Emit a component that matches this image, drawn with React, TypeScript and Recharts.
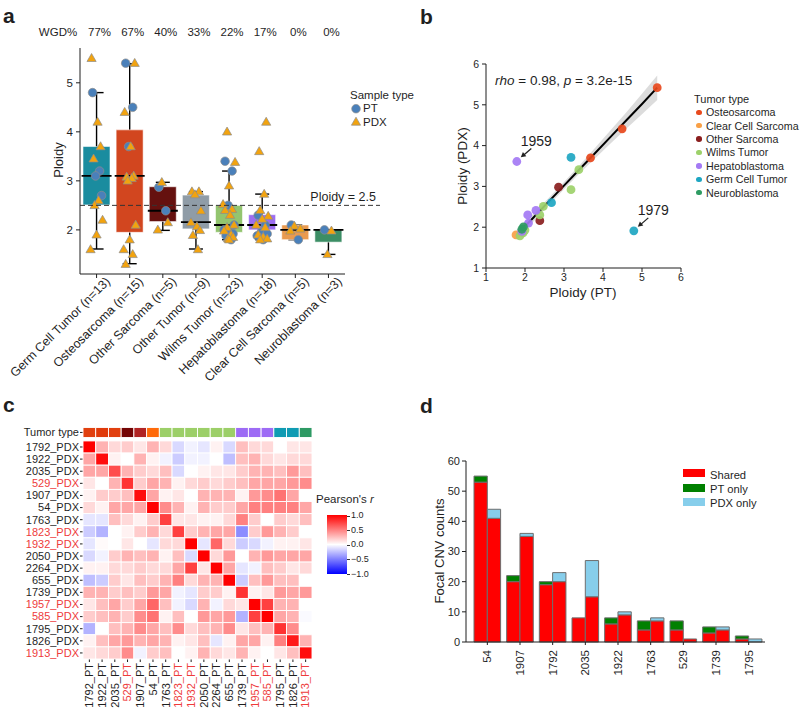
import React from 'react';
import {
  ComposedChart,
  BarChart,
  ScatterChart,
  Bar,
  Scatter,
  Area,
  Line,
  XAxis,
  YAxis,
  ErrorBar,
  Cell,
  ReferenceLine,
} from 'recharts';

const FONT = '"Liberation Sans", Arial, Helvetica, sans-serif';
const INK = '#1f1f1f';
const LABEL_RED = '#EE3B3B';

// ---------- panel a: ploidy per tumor type ----------
const categories = [
  'Germ Cell Tumor (n=13)',
  'Osteosarcoma (n=15)',
  'Other Sarcoma (n=5)',
  'Other Tumor (n=9)',
  'Wilms Tumor (n=23)',
  'Hepatoblastoma (n=18)',
  'Clear Cell Sarcoma (n=5)',
  'Neuroblastoma (n=3)',
];
const wgdPct = ['77%', '67%', '40%', '33%', '22%', '17%', '0%', '0%'];
const boxQ1 = [2.51, 1.95, 2.17, 2.02, 1.95, 2.0, 1.8, 1.75];
const boxMedian = [3.1, 3.1, 2.39, 2.16, 2.1, 2.1, 2.0, 2.0];
const boxQ3 = [3.7, 4.04, 2.88, 2.71, 2.5, 2.31, 2.1, 2.0];
const whiskerLow = [1.61, 1.31, 1.99, 1.61, 1.8, 1.8, 1.8, 1.5];
const whiskerHigh = [4.8, 5.39, 2.97, 2.78, 3.2, 2.73, 2.1, 2.0];
const boxColors = ['#1A8C9F', '#D2461F', '#65110F', '#8F9CA7', '#93C56F', '#9C6DF0', '#E99A4F', '#3C8E65'];
const ptPloidy = [
  [4.8, 3.2, 3.1, 2.7],
  [5.4, 4.5, 3.7],
  [2.87, 2.39],
  [],
  [3.4, 3.2, 2.5, 2.1, 2.0, 1.95, 1.92, 1.88, 1.8],
  [2.3, 2.1, 1.95, 1.92, 1.88, 1.8],
  [2.1, 1.8],
  [2.0],
];
const pdxPloidy = [
  [5.5, 4.2, 3.7, 3.45, 2.6, 2.5, 2.2, 1.9, 1.6],
  [5.4, 4.4, 3.7, 3.1, 3.08, 3.05, 3.0, 2.1, 1.8, 1.6, 1.5, 1.3],
  [2.97, 2.15, 2.0],
  [2.78, 2.78, 2.72, 2.39, 2.15, 2.07, 1.99, 1.89, 1.6],
  [4.0, 3.38, 2.9, 2.52, 2.42, 2.4, 2.3, 2.1, 2.05, 1.98, 1.9, 1.85, 1.82, 1.8],
  [4.2, 3.6, 2.73, 2.4, 2.28, 2.22, 2.1, 2.05, 1.9, 1.85, 1.82, 1.8],
  [2.08, 2.02, 1.98],
  [1.98, 1.5],
];

// ---------- panel b: PT vs PDX ploidy ----------
const tumorTypes = ['Osteosarcoma', 'Clear Cell Sarcoma', 'Other Sarcoma', 'Wilms Tumor', 'Hepatoblastoma', 'Germ Cell Tumor', 'Neuroblastoma'];
const tumorColors = ['#E8491D', '#F9A046', '#8A1E1E', '#9DD16A', '#A47AF4', '#1EA6C2', '#2E9B62'];
const pairType = [0, 0, 0, 1, 2, 2, 3, 3, 3, 3, 3, 3, 3, 4, 4, 4, 4, 4, 5, 5, 5, 6, 6];
const pairPT = [5.39, 4.49, 3.68, 1.77, 2.86, 2.38, 3.18, 3.38, 2.47, 2.38, 2.0, 1.95, 1.87, 1.79, 2.07, 2.28, 2.09, 1.92, 3.18, 2.68, 4.79, 1.96, 1.92];
const pairPDX = [5.42, 4.41, 3.7, 1.81, 2.98, 2.16, 2.92, 3.41, 2.51, 2.3, 1.93, 1.86, 1.79, 3.61, 2.3, 2.41, 2.1, 1.9, 3.71, 2.6, 1.91, 2.01, 1.95];
const pairLabel = ['', '', '', '', '', '', '', '', '', '', '', '', '', '1959', '', '', '', '', '', '', '1979', '', ''];
const fitX = [1.79, 2.2, 2.6, 3.0, 3.4, 3.8, 4.2, 4.6, 5.0, 5.39];
const fitY = [1.81, 2.22, 2.62, 3.02, 3.42, 3.82, 4.22, 4.62, 5.02, 5.42];
const fitLow = [1.68, 2.12, 2.53, 2.93, 3.32, 3.69, 4.06, 4.42, 4.77, 5.12];
const fitHigh = [1.94, 2.32, 2.71, 3.11, 3.52, 3.95, 4.38, 4.82, 5.27, 5.72];

// ---------- panel c: PT / PDX correlation heatmap ----------
const sampleIds = ['1792', '1922', '2035', '529', '1907', '54', '1763', '1823', '1932', '2050', '2264', '655', '1739', '1957', '585', '1795', '1826', '1913'];
const redIds = ['529', '1823', '1932', '1957', '585', '1913'];
const stripColors = [
  '#E1400F', '#E03A0A', '#E1400F', '#740505', '#B12424', '#FF6A0A',
  '#9CCF68', '#9CCF68', '#9CCF68', '#9CCF68', '#9CCF68', '#9CCF68',
  '#9D6BF5', '#9D6BF5', '#9D6BF5', '#0F9BB3', '#0F9BB3', '#2E9A64',
];
// rows: *_PDX, columns: *_PT (same order as sampleIds)
const corr = [
  [1.0, 0.3, 0.15, 0.2, 0.1, 0.3, 0.15, -0.15, -0.05, -0.1, 0.05, -0.15, 0.25, 0.15, 0.15, 0.0, 0.1, 0.1],
  [0.35, 0.95, 0.05, 0.0, 0.3, 0.05, -0.05, -0.2, -0.05, -0.05, 0.0, -0.25, 0.25, 0.3, 0.15, 0.1, 0.15, 0.15],
  [0.35, 0.35, 0.7, 0.3, 0.2, 0.15, 0.25, -0.15, 0.0, 0.05, 0.1, 0.1, 0.2, 0.3, 0.3, 0.25, 0.4, 0.25],
  [0.1, 0.0, 0.3, 0.8, 0.2, 0.35, 0.3, 0.05, 0.15, 0.2, 0.15, 0.2, 0.25, 0.35, 0.35, 0.35, 0.4, 0.45],
  [0.05, 0.2, 0.2, 0.25, 0.95, 0.35, 0.05, 0.1, 0.0, 0.3, 0.3, 0.3, 0.05, 0.4, 0.45, 0.55, 0.35, 0.0],
  [0.15, 0.05, 0.35, 0.35, 0.35, 1.0, 0.45, 0.3, 0.05, 0.3, 0.2, 0.2, 0.35, 0.5, 0.5, 0.5, 0.5, 0.35],
  [-0.1, -0.1, 0.25, 0.15, 0.05, 0.2, 0.75, 0.1, 0.1, 0.05, 0.05, 0.15, 0.5, 0.2, 0.0, 0.2, 0.15, 0.25],
  [-0.2, -0.3, 0.0, 0.05, 0.2, 0.3, 0.15, 0.75, 0.2, 0.3, 0.35, 0.35, -0.45, 0.2, 0.4, 0.3, 0.2, 0.0],
  [-0.1, 0.02, 0.0, 0.1, 0.0, -0.1, 0.15, 0.15, 1.0, -0.1, 0.6, 0.15, -0.2, -0.15, -0.05, 0.05, 0.05, 0.1],
  [-0.15, -0.05, 0.2, 0.3, 0.25, 0.3, 0.05, 0.25, -0.15, 1.0, 0.15, 0.4, 0.0, 0.3, 0.4, 0.35, 0.35, 0.35],
  [0.05, 0.05, 0.15, 0.15, 0.2, 0.15, 0.15, 0.35, 0.75, 0.1, 1.0, 0.35, -0.1, -0.05, 0.25, 0.2, 0.1, 0.15],
  [-0.25, -0.2, 0.2, 0.1, 0.25, 0.2, 0.3, 0.5, 0.15, 0.3, 0.3, 1.0, -0.2, 0.25, 0.4, 0.25, 0.25, 0.0],
  [0.3, 0.3, 0.2, 0.25, 0.2, 0.4, 0.35, -0.05, -0.1, 0.2, 0.2, 0.05, 0.8, 0.05, 0.1, 0.4, 0.35, 0.4],
  [0.1, 0.25, 0.35, 0.2, 0.35, 0.6, 0.25, -0.05, -0.15, 0.3, -0.05, 0.15, 0.1, 1.0, 0.75, 0.3, 0.3, 0.0],
  [0.2, 0.25, 0.3, 0.2, 0.45, 0.55, 0.05, 0.25, 0.0, 0.4, 0.35, 0.4, -0.3, 0.75, 1.0, 0.35, 0.3, -0.02],
  [-0.3, 0.0, 0.25, 0.3, 0.45, 0.35, 0.25, 0.45, 0.15, 0.25, 0.3, 0.45, 0.1, 0.25, 0.3, 0.8, 0.45, 0.0],
  [0.05, 0.25, 0.35, 0.4, 0.3, 0.35, 0.3, 0.05, 0.1, 0.25, -0.1, 0.05, 0.35, 0.35, 0.05, 0.5, 0.9, 0.3],
  [0.1, 0.15, 0.2, 0.45, -0.05, 0.2, 0.25, 0.0, 0.05, 0.3, 0.15, 0.1, 0.3, 0.05, 0.0, 0.1, 0.25, 0.95],
];

// ---------- panel d: focal CNV counts ----------
const cnvIds = ['54', '1907', '1792', '2035', '1922', '1763', '529', '1739', '1795'];
const ptShared = [53, 20, 19, 8, 6, 4, 4, 3, 1];
const ptOnly = [2, 2, 1, 0, 2, 3, 3, 2, 1];
const pdxShared = [41, 35, 20, 15, 9, 7, 1, 4, 0];
const pdxOnly = [3, 1, 3, 12, 1, 1, 0, 1, 1];

// ---------- derived tables ----------
const boxData = categories.map((name, i) => ({
  name,
  box: [boxQ1[i], boxQ3[i]],
  median: boxMedian[i],
  whisker: [boxMedian[i] - whiskerLow[i], whiskerHigh[i] - boxMedian[i]],
}));

const jitterPx = [-4, 3, -1, 5, -5, 1, 4, -3, 2, -2, 6, 0, -6, 3, -4, 1, 5, -2, -5, 2, 4, -1, 0];
const ptPoints: any[] = [];
const pdxPoints: any[] = [];
categories.forEach((name, i) => {
  let k = 0;
  ptPloidy[i].forEach((y) => ptPoints.push({ name, y, k: k++ }));
  pdxPloidy[i].forEach((y) => pdxPoints.push({ name, y, k: k++ }));
});

const fitData = fitX.map((x, i) => ({ x, fit: fitY[i], band: [fitLow[i], fitHigh[i]] }));
const pairData = pairPT.map((x, i) => ({ x, y: pairPDX[i], color: tumorColors[pairType[i]], label: pairLabel[i] }));

const heatCells = corr.flatMap((row, r) => row.map((v, c) => ({ x: c, y: r, v })));
const stripCells = stripColors.map((color, c) => ({ x: c, y: -1.2, color }));

const cnvData = cnvIds.map((id, i) => ({
  id,
  ptShared: ptShared[i],
  ptOnly: ptOnly[i],
  pdxShared: pdxShared[i],
  pdxOnly: pdxOnly[i],
}));

// ---------- shapes & ticks ----------
function CategoryTick(props: any) {
  const { x, y, payload, index } = props;
  const ax = x + 8;
  const ay = y - 4;
  return (
    <g>
      <text x={ax} y={ay} dy="0.71em" transform={`rotate(-45 ${ax} ${ay})`} textAnchor="end" fontSize={12.5} fill={INK}>
        {payload.value}
      </text>
      <text x={x + 3} y={36} textAnchor="middle" fontSize={11.5} fill={INK}>
        {wgdPct[index]}
      </text>
      {index === 0 && (
        <text x={58} y={36} textAnchor="middle" fontSize={11.5} fill={INK}>
          WGD%
        </text>
      )}
    </g>
  );
}

const MedianLine = (p: any) => <line x1={p.cx - 15} x2={p.cx + 15} y1={p.cy} y2={p.cy} stroke="#000" strokeWidth={1.8} />;

const PtDot = (p: any) => (
  <circle cx={p.cx + jitterPx[p.payload.k]} cy={p.cy} r={4.3} fill="#4A80BA" stroke="#8c8c8c" strokeWidth={0.7} />
);

const PdxTri = (p: any) => {
  const x = p.cx + jitterPx[p.payload.k];
  const y = p.cy;
  return (
    <polygon
      points={`${x},${y - 4.8} ${x + 4.6},${y + 3.2} ${x - 4.6},${y + 3.2}`}
      fill="#F2A30F"
      stroke="#8c8c8c"
      strokeWidth={0.7}
    />
  );
};

const PairDot = (p: any) => {
  const { cx, cy, payload } = p;
  return (
    <g>
      <circle cx={cx} cy={cy} r={4.4} fill={payload.color} fillOpacity={0.92} />
      {payload.label && (
        <g>
          <line x1={cx + 14.5} y1={cy - 13} x2={cx + 7} y2={cy - 6.5} stroke="#222" strokeWidth={1.3} />
          <polygon points={`${cx + 4},${cy - 4.2} ${cx + 9.5},${cy - 5.3} ${cx + 6.1},${cy - 9.4}`} fill="#222" />
          <text x={cx + 19.5} y={cy - 16} textAnchor="middle" fontSize={14} fill={INK}>
            {payload.label}
          </text>
        </g>
      )}
    </g>
  );
};

const HEAT_PLOT_W = 229;
const HEAT_PLOT_H = 232;
const CELL_W = HEAT_PLOT_W / 18;
const CELL_H = HEAT_PLOT_H / 19.15;

function corrColor(v: number) {
  const t = Math.min(1, Math.abs(v));
  const f = Math.round(255 * (1 - t));
  return v >= 0 ? `rgb(255,${f},${f})` : `rgb(${f},${f},255)`;
}

const HeatCell = (p: any) => (
  <rect
    x={p.cx - CELL_W / 2}
    y={p.cy - CELL_H / 2}
    width={CELL_W}
    height={CELL_H}
    fill={corrColor(p.payload.v)}
    stroke="#fff"
    strokeWidth={0.9}
  />
);

const StripCell = (p: any) => (
  <rect x={p.cx - CELL_W / 2} y={p.cy - 5} width={CELL_W} height={10} fill={p.payload.color} stroke="#fff" strokeWidth={0.9} />
);

function HeatRowTick(props: any) {
  const { x, y, payload } = props;
  const v = payload.value;
  const id = v < 0 ? '' : sampleIds[Math.round(v)];
  const label = v < 0 ? 'Tumor type' : `${id}_PDX`;
  return (
    <text x={x} y={y} dy="0.35em" textAnchor="end" fontSize={11} fill={redIds.includes(id) ? LABEL_RED : INK}>
      {label}
    </text>
  );
}

function HeatColTick(props: any) {
  const { x, y, payload } = props;
  const id = sampleIds[Math.round(payload.value)];
  return (
    <text
      x={x}
      y={y}
      dy="0.35em"
      transform={`rotate(-90 ${x} ${y})`}
      textAnchor="end"
      fontSize={11}
      fill={redIds.includes(id) ? LABEL_RED : INK}
    >
      {`${id}_PT`}
    </text>
  );
}

function CnvTick(props: any) {
  const { x, y, payload } = props;
  return (
    <text x={x} y={y} dy="0.35em" transform={`rotate(-90 ${x} ${y})`} textAnchor="end" fontSize={11.5} fill={INK}>
      {payload.value}
    </text>
  );
}

// ---------- html text helpers ----------
function Txt({ x, base, size = 11, children, bold, anchor = 'start', italic }: any) {
  const shift = anchor === 'middle' ? 'translateX(-50%)' : anchor === 'end' ? 'translateX(-100%)' : 'none';
  return (
    <div
      style={{
        position: 'absolute',
        left: x,
        top: base - 0.8465 * size,
        fontSize: size,
        lineHeight: `${size}px`,
        fontWeight: bold ? 700 : 400,
        fontStyle: italic ? 'italic' : 'normal',
        whiteSpace: 'nowrap',
        transform: shift,
        color: INK,
      }}
    >
      {children}
    </div>
  );
}

function VTxt({ cx, cy, size = 13, children }: any) {
  return (
    <div
      style={{
        position: 'absolute',
        left: cx,
        top: cy,
        fontSize: size,
        lineHeight: `${size}px`,
        whiteSpace: 'nowrap',
        transform: 'translate(-50%, -50%) rotate(-90deg)',
        color: INK,
      }}
    >
      {children}
    </div>
  );
}

const abs = (left: number, top: number): React.CSSProperties => ({ position: 'absolute', left, top });

export default function App() {
  return (
    <div style={{ position: 'absolute', left: 0, top: 0, width: 800, height: 709, background: '#fff', fontFamily: FONT, overflow: 'hidden' }}>
      {/* ----- a: whiskers sit behind the boxes (invisible bar keeps the band scale) ----- */}
      <div style={abs(0, 0)}>
        <ComposedChart width={400} height={400} data={boxData} margin={{ top: 48, right: 55, bottom: 126, left: 80 }}>
          <XAxis dataKey="name" allowDuplicatedCategory={false} hide />
          <YAxis type="number" domain={[1.1, 5.71]} allowDataOverflow hide />
          <Bar dataKey="box" barSize={27} fill="none" fillOpacity={0} isAnimationActive={false} />
          <Scatter data={boxData} dataKey="median" shape={() => <g />} isAnimationActive={false}>
            <ErrorBar dataKey="whisker" direction="y" width={7} stroke="#000" strokeWidth={1.4} isAnimationActive={false} />
          </Scatter>
        </ComposedChart>
      </div>
      <div style={abs(0, 0)}>
        <ComposedChart width={400} height={400} data={boxData} margin={{ top: 48, right: 55, bottom: 26, left: 50 }}>
          <XAxis
            dataKey="name"
            allowDuplicatedCategory={false}
            interval={0}
            height={100}
            tickSize={4}
            stroke={INK}
            tick={(p: any) => <CategoryTick {...p} />}
          />
          <YAxis
            type="number"
            domain={[1.1, 5.71]}
            ticks={[2, 3, 4, 5]}
            allowDataOverflow
            width={30}
            tickSize={4}
            tickMargin={3}
            stroke={INK}
            tick={{ fontSize: 11.5, fill: INK }}
          />
          <Bar dataKey="box" barSize={27} isAnimationActive={false}>
            {boxColors.map((c) => (
              <Cell key={c} fill={c} stroke="#ffffff" strokeOpacity={0.55} strokeWidth={1} />
            ))}
          </Bar>
          <Scatter data={boxData} dataKey="median" shape={MedianLine} isAnimationActive={false} />
          <Scatter data={ptPoints} dataKey="y" shape={PtDot} isAnimationActive={false} />
          <Scatter data={pdxPoints} dataKey="y" shape={PdxTri} isAnimationActive={false} />
        </ComposedChart>
      </div>
      <div style={{ ...abs(0, 0), pointerEvents: 'none' }}>
        <ComposedChart width={400} height={400} data={boxData} margin={{ top: 48, right: 20, bottom: 126, left: 80 }}>
          <XAxis dataKey="name" hide />
          <YAxis type="number" domain={[1.1, 5.71]} allowDataOverflow hide />
          <ReferenceLine
            y={2.5}
            stroke="#333"
            strokeDasharray="5 3"
            strokeWidth={1}
            label={{ value: 'Ploidy = 2.5', position: 'insideBottomRight', fill: INK, fontSize: 12.5, offset: 4 }}
          />
        </ComposedChart>
      </div>
      <Txt x={3} base={23} size={21} bold>a</Txt>
      <VTxt cx={58} cy={160} size={13}>Ploidy</VTxt>
      <Txt x={350} base={100} size={11.5}>Sample type</Txt>
      <svg style={abs(350, 103)} width={14} height={26}>
        <circle cx={6} cy={5.7} r={4.3} fill="#4A80BA" stroke="#8c8c8c" strokeWidth={0.7} />
        <polygon points="6,14.2 10.6,22.2 1.4,22.2" fill="#F2A30F" stroke="#8c8c8c" strokeWidth={0.7} />
      </svg>
      <Txt x={363} base={113} size={11.5}>PT</Txt>
      <Txt x={363} base={126.5} size={11.5}>PDX</Txt>

      {/* ----- b ----- */}
      <div style={abs(400, 0)}>
        <ComposedChart width={400} height={330} data={fitData} margin={{ top: 64, right: 119, bottom: 22, left: 56 }}>
          <XAxis
            type="number"
            dataKey="x"
            domain={[1, 6]}
            ticks={[1, 2, 3, 4, 5, 6]}
            interval={0}
            height={40}
            tickSize={4}
            stroke={INK}
            tick={{ fontSize: 10.5, fill: INK }}
          />
          <YAxis
            type="number"
            domain={[1, 6]}
            ticks={[1, 2, 3, 4, 5, 6]}
            interval={0}
            width={30}
            tickSize={4}
            tickMargin={3}
            stroke={INK}
            tick={{ fontSize: 10.5, fill: INK }}
          />
          <Area dataKey="band" stroke="none" fill="#c4c4c4" fillOpacity={0.6} isAnimationActive={false} />
          <Line dataKey="fit" stroke="#000" strokeWidth={2} dot={false} isAnimationActive={false} />
          <Scatter data={pairData} dataKey="y" shape={PairDot} isAnimationActive={false} />
        </ComposedChart>
      </div>
      <Txt x={420} base={24} size={21} bold>b</Txt>
      <Txt x={495} base={85} size={13.5}>
        <i>rho</i> = 0.98, <i>p</i> = 3.2e-15
      </Txt>
      <Txt x={583} base={297} size={13.5} anchor="middle">Ploidy (PT)</Txt>
      <VTxt cx={463} cy={166} size={13.5}>Ploidy (PDX)</VTxt>
      <Txt x={694} base={103} size={11}>Tumor type</Txt>
      {tumorTypes.map((t, i) => (
        <React.Fragment key={t}>
          <div
            style={{
              ...abs(696.2, 112.3 + i * 13.4 - 2.8),
              width: 5.6,
              height: 5.6,
              borderRadius: '50%',
              background: tumorColors[i],
            }}
          />
          <Txt x={706} base={112.3 + i * 13.4 + 4} size={10.7}>{t}</Txt>
        </React.Fragment>
      ))}

      {/* ----- c ----- */}
      <div style={abs(0, 400)}>
        <ScatterChart width={320} height={309} margin={{ top: 27, right: 8, bottom: 1, left: 3 }}>
          <XAxis
            type="number"
            dataKey="x"
            domain={[-0.5, 17.5]}
            ticks={sampleIds.map((_, i) => i)}
            interval={0}
            height={49}
            axisLine={false}
            tickSize={3}
            tickMargin={1}
            stroke={INK}
            tick={(p: any) => <HeatColTick {...p} />}
          />
          <YAxis
            type="number"
            dataKey="y"
            domain={[-1.65, 17.5]}
            reversed
            ticks={[-1.2, ...sampleIds.map((_, i) => i)]}
            interval={0}
            width={80}
            axisLine={false}
            tickSize={3}
            tickMargin={1}
            stroke={INK}
            tick={(p: any) => <HeatRowTick {...p} />}
          />
          <Scatter data={heatCells} shape={HeatCell} isAnimationActive={false} />
          <Scatter data={stripCells} shape={StripCell} isAnimationActive={false} />
        </ScatterChart>
      </div>
      <Txt x={3} base={412} size={21} bold>c</Txt>
      <Txt x={316} base={504} size={11.5}>
        Pearson's <i>r</i>
      </Txt>
      <div
        style={{
          ...abs(327, 515),
          width: 20,
          height: 59,
          background: 'linear-gradient(to bottom, #ff0000 0%, #ffffff 50%, #0000ff 100%)',
        }}
      />
      {['1.0', '0.5', '0.0', '\u22120.5', '\u22121.0'].map((t, i) => (
        <React.Fragment key={t}>
          <div style={{ ...abs(347, 515.5 + i * 14.6), width: 3, height: 1, background: '#333' }} />
          <Txt x={351} base={515.5 + i * 14.6 + 3.3} size={9}>{t}</Txt>
        </React.Fragment>
      ))}

      {/* ----- d ----- */}
      <div style={abs(400, 380)}>
        <BarChart width={400} height={329} data={cnvData} barGap={0} margin={{ top: 81, right: 35, bottom: 27, left: 36 }}>
          <XAxis
            dataKey="id"
            interval={0}
            height={40}
            padding={{ left: 5, right: 0 }}
            tickSize={3}
            tickMargin={5}
            stroke={INK}
            tick={(p: any) => <CnvTick {...p} />}
          />
          <YAxis
            type="number"
            domain={[0, 60]}
            ticks={[0, 10, 20, 30, 40, 50, 60]}
            interval={0}
            width={30}
            tickSize={4}
            tickMargin={2}
            stroke={INK}
            tick={{ fontSize: 11, fill: INK }}
          />
          <Bar dataKey="ptShared" stackId="pt" barSize={13.3} fill="#FF0000" stroke="#6e6e6e" strokeWidth={1} isAnimationActive={false} />
          <Bar dataKey="ptOnly" stackId="pt" barSize={13.3} fill="#008000" stroke="#6e6e6e" strokeWidth={1} isAnimationActive={false} />
          <Bar dataKey="pdxShared" stackId="pdx" barSize={13.3} fill="#FF0000" stroke="#6e6e6e" strokeWidth={1} isAnimationActive={false} />
          <Bar dataKey="pdxOnly" stackId="pdx" barSize={13.3} fill="#87CEEB" stroke="#6e6e6e" strokeWidth={1} isAnimationActive={false} />
        </BarChart>
      </div>
      <Txt x={420} base={413} size={21} bold>d</Txt>
      <VTxt cx={439} cy={551} size={13}>Focal CNV counts</VTxt>
      {[
        ['Shared', '#FF0000'],
        ['PT only', '#008000'],
        ['PDX only', '#87CEEB'],
      ].map(([t, c], i) => (
        <React.Fragment key={t}>
          <div style={{ ...abs(683, 469.3 + i * 14.4), width: 22, height: 8, background: c }} />
          <Txt x={710} base={475 + i * 14.1 + 4} size={11.2}>{t}</Txt>
        </React.Fragment>
      ))}
    </div>
  );
}
